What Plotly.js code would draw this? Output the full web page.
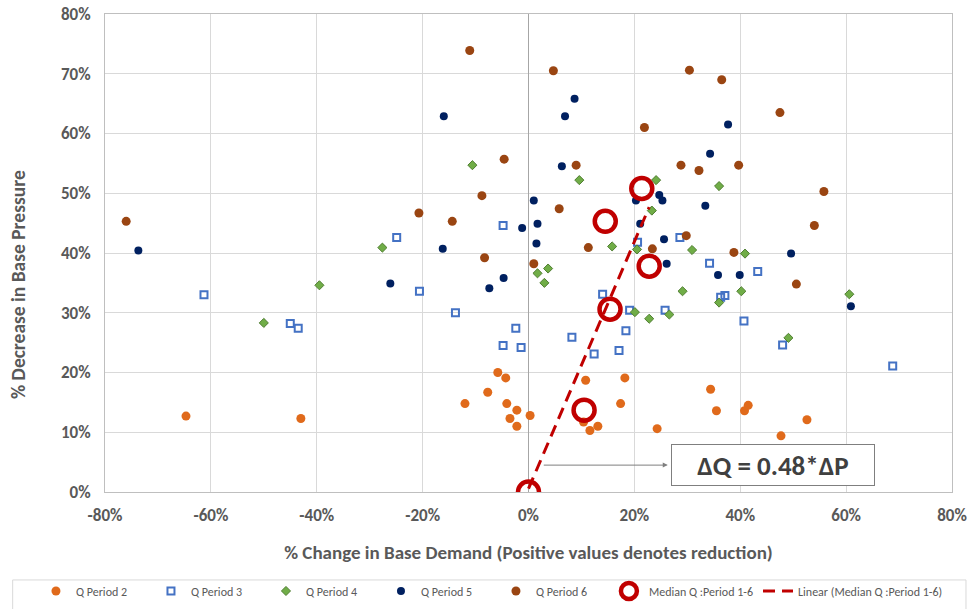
<!DOCTYPE html>
<html><head><meta charset="utf-8">
<script src="https://cdn.plot.ly/plotly-3.0.1.min.js"></script>
<style>html,body{margin:0;padding:0;background:#fff}#chart{width:967px;height:609px}</style>
</head><body><div id="chart"></div>
<script>
// Values in percent
const q2x = [-64.7,-43.0,-12.0,-7.7,-5.8,-4.3,-4.1,-3.5,-2.2,-2.2,0.3,10.8,10.4,11.6,13.1,18.2,17.4,24.3,34.4,35.5,40.8,41.5,52.6,47.7];
const q2y = [12.7,12.3,14.8,16.7,20.0,19.1,14.8,12.3,13.7,11.0,12.8,18.7,11.7,10.3,11.0,19.1,14.8,10.6,17.2,13.6,13.6,14.5,12.1,9.4];

const q3x = [-61.3,-45.0,-43.5,-24.9,-20.6,-13.8,-4.8,-2.4,-4.8,-1.4,8.2,14.0,12.4,19.1,18.4,17.1,20.6,28.6,34.2,25.8,36.3,37.1,43.3,40.7,48.0,68.8];
const q3y = [33.0,28.2,27.4,42.6,33.6,30.0,44.6,27.4,24.5,24.2,25.9,33.1,23.1,30.4,27.0,23.7,41.8,42.6,38.3,30.4,32.6,32.9,36.9,28.6,24.6,21.1];

const q4x = [-50.0,-39.5,-27.6,-10.6,9.6,24.1,23.3,1.7,3.7,3.0,36.0,15.8,20.5,30.9,29.1,20.1,22.8,26.6,36.0,40.9,40.2,49.1,60.6];
const q4y = [28.3,34.6,40.9,54.7,52.2,52.2,47.1,36.6,37.4,35.0,51.2,41.1,40.6,40.5,33.6,30.1,29.0,29.7,31.7,39.9,33.6,25.8,33.1];

const q5x = [-73.7,-16.0,8.7,6.9,6.3,1.0,1.7,-1.2,1.5,-16.2,-26.1,-7.4,-4.7,37.7,34.3,33.4,24.7,25.3,25.6,20.3,21.1,26.1,35.8,39.9,49.6,60.9];
const q5y = [40.4,62.9,65.8,62.9,54.5,48.8,44.9,44.2,41.6,40.7,34.9,34.1,35.8,61.5,56.6,47.9,49.7,48.8,42.3,48.8,44.9,38.2,36.3,36.3,39.9,31.1];

const q6x = [-76.0,-11.1,4.7,21.9,-4.6,9.0,-8.8,-20.7,-14.4,5.8,-8.3,1.0,11.3,30.4,36.5,47.5,28.8,32.2,39.7,55.8,54.0,29.8,38.8,50.6,23.4];
const q6y = [45.3,73.9,70.5,61.0,55.7,54.7,49.6,46.7,45.3,47.4,39.2,38.2,40.9,70.6,69.0,63.5,54.7,53.8,54.7,50.3,44.6,42.9,40.1,34.8,40.7];

const medX = [0,10.5,15.4,14.5,21.4,22.8];
const medY = [0,13.7,30.6,45.3,50.8,37.8];

const xTickVals = [-80,-60,-40,-20,0,20,40,60,80];
const xTickText = ['-80%','-60%','-40%','-20%','0%','20%','40%','60%','80%'];
const yTickVals = [0,10,20,30,40,50,60,70,80];
const yTickText = ['0%','10%','20%','30%','40%','50%','60%','70%','80%'];

const seriesNames = ['Q Period 2','Q Period 3','Q Period 4','Q Period 5','Q Period 6','Median Q :Period 1-6','Linear (Median Q :Period 1-6)'];
const eqText = 'ΔQ = 0.48*ΔP';
const xTitle = '% Change in Base Demand (Positive values denotes reduction)';
const yTitle = '% Decrease in Base Pressure';

// least-squares trendline of median points
const n = medX.length;
const mx = medX.reduce((a,b)=>a+b,0)/n, my = medY.reduce((a,b)=>a+b,0)/n;
let sxy=0, sxx=0;
for (let i=0;i<n;i++){ sxy+=(medX[i]-mx)*(medY[i]-my); sxx+=(medX[i]-mx)**2; }
const slope = sxy/sxx, icpt = my - slope*mx;
const tx = [Math.min(...medX), Math.max(...medX)];
const ty = tx.map(v=>icpt+slope*v);

const FONT = "Carlito, 'Open Sans', 'Noto Sans', sans-serif";
const GREY = '#595959';

const traces = [
 {type:'scatter',mode:'markers',name:seriesNames[0],x:q2x,y:q2y,marker:{symbol:'circle',size:9,color:'#E06A1B'}},
 {type:'scatter',mode:'markers',name:seriesNames[1],x:q3x,y:q3y,marker:{symbol:'square-open',size:7,color:'#4472C4',line:{width:2,color:'#4472C4'}}},
 {type:'scatter',mode:'markers',name:seriesNames[2],x:q4x,y:q4y,marker:{symbol:'diamond',size:7,color:'#70AD47',line:{width:1,color:'#507E32'}}},
 {type:'scatter',mode:'markers',name:seriesNames[3],x:q5x,y:q5y,marker:{symbol:'circle',size:8,color:'#002060'}},
 {type:'scatter',mode:'markers',name:seriesNames[4],x:q6x,y:q6y,marker:{symbol:'circle',size:9,color:'#9A4512'}},
 {type:'scatter',mode:'lines',name:seriesNames[6],x:tx,y:ty,line:{color:'#C00000',width:3,dash:'12px,7px'},legend:'legend2'},
 {type:'scatter',mode:'markers',name:seriesNames[5],x:medX,y:medY,marker:{symbol:'circle-open',size:21,color:'#C00000',line:{width:4.5,color:'#C00000'}},legend:'legend2'}
];

const legFont = {size:12,color:GREY,family:FONT};
const layout = {
  width:967,height:609,
  margin:{l:105,r:15,t:14,b:117},
  paper_bgcolor:'#fff',plot_bgcolor:'#fff',
  font:{family:FONT,color:GREY},
  showlegend:true,
  xaxis:{range:[-80,80],tickvals:xTickVals,ticktext:xTickText,showgrid:true,gridcolor:'#d9d9d9',automargin:false,
    zeroline:true,zerolinecolor:'#a6a6a6',zerolinewidth:1,showline:true,mirror:true,linecolor:'#bfbfbf',
    tickfont:{size:17,color:GREY,family:FONT,weight:'bold'},ticks:'',ticklabelstandoff:8,
    title:{text:'<b>'+xTitle+'</b>',font:{size:19,color:GREY,family:FONT},standoff:20}},
  yaxis:{range:[0,80],tickvals:yTickVals,ticktext:yTickText,showgrid:true,gridcolor:'#d9d9d9',automargin:false,
    zeroline:false,showline:true,mirror:true,linecolor:'#bfbfbf',
    tickfont:{size:17,color:GREY,family:FONT,weight:'bold'},ticks:'',ticklabelstandoff:10},
  legend:{orientation:'h',xref:'container',yref:'container',x:0.0372,xanchor:'left',y:0.0296,yanchor:'middle',bgcolor:'rgba(0,0,0,0)',
    font:legFont,entrywidth:70,entrywidthmode:'pixels'},
  legend2:{orientation:'h',xref:'container',yref:'container',x:0.6297,xanchor:'left',y:0.0296,yanchor:'middle',bgcolor:'rgba(0,0,0,0)',
    font:legFont,traceorder:'reversed'},
  shapes:[
    {type:'rect',xref:'paper',yref:'paper',x0:-0.109,x1:1.0165,y0:-0.184,y1:-0.26,line:{color:'#d9d9d9',width:1},fillcolor:'rgba(0,0,0,0)'}
  ],
  annotations:[
    {xref:'paper',yref:'paper',x:-0.1027,y:0.433,xanchor:'center',yanchor:'middle',textangle:-90,showarrow:false,
      text:'<b>'+yTitle+'</b>',font:{size:19.5,color:GREY,family:FONT}},
    {xref:'x',yref:'y',x:26.3,y:4.5,ax:2.6,ay:4.5,axref:'x',ayref:'y',showarrow:true,arrowhead:2,arrowsize:1,arrowwidth:1,arrowcolor:'#7f7f7f',text:''},
    {xref:'x',yref:'y',x:46.2,y:4.6,text:'<b>'+eqText+'</b>',showarrow:false,font:{size:27,color:'#404040',family:FONT},
      bordercolor:'#7f7f7f',borderwidth:1,width:200,height:38,bgcolor:'#fff'}
  ]
};
Plotly.newPlot('chart',traces,layout,{displayModeBar:false});
</script></body></html>
